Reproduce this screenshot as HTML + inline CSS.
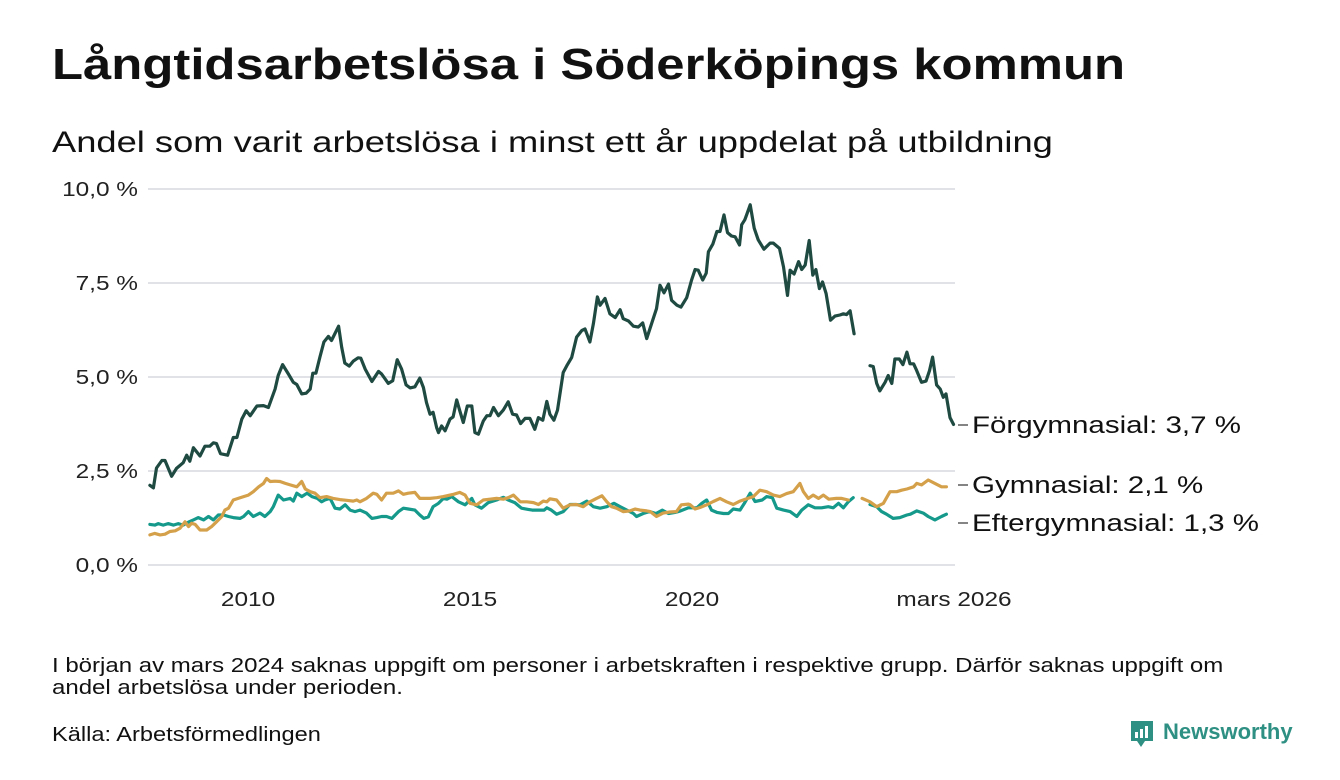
<!DOCTYPE html>
<html><head><meta charset="utf-8">
<style>
html,body{margin:0;padding:0;background:#fff;}
body{width:1340px;height:780px;overflow:hidden;font-family:"Liberation Sans","DejaVu Sans",sans-serif;color:#111;position:relative;}
.t{position:absolute;white-space:nowrap;transform-origin:0 0;}
</style></head>
<body>
<div class="t" style="left:52px;top:40px;font-size:44px;font-weight:bold;transform:scaleX(1.155);">Långtidsarbetslösa i Söderköpings kommun</div>
<div class="t" style="left:52px;top:126px;font-size:30px;transform:scaleX(1.21);">Andel som varit arbetslösa i minst ett år uppdelat på utbildning</div>
<svg id="chart" width="1340" height="620" style="position:absolute;left:0;top:0;" xmlns="http://www.w3.org/2000/svg"></svg>
<div class="t" style="left:52px;top:655px;font-size:20px;line-height:22px;white-space:normal;width:1010px;transform:scaleX(1.2);">I början av mars 2024 saknas uppgift om personer i arbetskraften i respektive grupp. Därför saknas uppgift om andel arbetslösa under perioden.</div>
<div class="t" style="left:52px;top:724px;font-size:20px;transform:scaleX(1.18);">Källa: Arbetsförmedlingen</div>
<div style="position:absolute;left:1129px;top:720px;">
<svg width="28" height="30" style="position:absolute;left:0;top:0;"><path d="M2 1h22v20h-8l-4 6l-4-6H2z" fill="#2e8f83"/><rect x="6" y="12" width="3" height="6" fill="#fff"/><rect x="11" y="9" width="3" height="9" fill="#fff"/><rect x="16" y="6" width="3" height="12" fill="#fff"/></svg>
<span style="position:absolute;left:34px;top:-1px;font-size:22px;font-weight:bold;color:#2e8f83;white-space:nowrap;">Newsworthy</span>
</div>
<script>
const yTicks=[0,2.5,5,7.5,10];
const yTickLabels=["0,0 %","2,5 %","5,0 %","7,5 %","10,0 %"];
const xTicks=[2010,2015,2020,2026.17];
const xTickLabels=["2010","2015","2020","mars 2026"];
const seriesNames=["Förgymnasial","Gymnasial","Eftergymnasial"];
const endLabels=["Förgymnasial: 3,7 %","Gymnasial: 2,1 %","Eftergymnasial: 1,3 %"];
const forX=[2007.79,2007.87,2007.94,2008.06,2008.13,2008.28,2008.39,2008.54,2008.62,2008.69,2008.77,2008.92,2009.03,2009.14,2009.22,2009.29,2009.38,2009.54,2009.67,2009.75,2009.86,2009.96,2010.05,2010.20,2010.35,2010.46,2010.61,2010.68,2010.78,2010.91,2011.02,2011.10,2011.21,2011.31,2011.40,2011.46,2011.53,2011.62,2011.71,2011.81,2011.88,2012.04,2012.11,2012.18,2012.28,2012.37,2012.48,2012.54,2012.64,2012.79,2012.94,2013.01,2013.16,2013.26,2013.36,2013.46,2013.56,2013.65,2013.76,2013.87,2013.95,2014.02,2014.10,2014.17,2014.25,2014.29,2014.36,2014.44,2014.55,2014.62,2014.70,2014.77,2014.85,2014.94,2015.04,2015.11,2015.19,2015.30,2015.38,2015.45,2015.53,2015.64,2015.75,2015.86,2015.96,2016.05,2016.14,2016.24,2016.35,2016.46,2016.54,2016.64,2016.73,2016.80,2016.89,2016.97,2017.10,2017.18,2017.29,2017.40,2017.52,2017.59,2017.70,2017.78,2017.87,2017.93,2018.04,2018.15,2018.27,2018.38,2018.45,2018.57,2018.68,2018.79,2018.89,2018.98,2019.09,2019.20,2019.28,2019.37,2019.47,2019.54,2019.66,2019.75,2019.88,2019.99,2020.07,2020.14,2020.24,2020.32,2020.37,2020.47,2020.56,2020.63,2020.72,2020.80,2020.89,2020.97,2021.07,2021.12,2021.19,2021.23,2021.31,2021.40,2021.49,2021.62,2021.76,2021.83,2021.97,2022.06,2022.15,2022.21,2022.30,2022.40,2022.47,2022.55,2022.64,2022.72,2022.79,2022.87,2022.94,2023.02,2023.12,2023.22,2023.33,2023.41,2023.48,2023.56,2023.65,2023.83,2024.01,2024.08,2024.16,2024.23,2024.35,2024.42,2024.50,2024.57,2024.67,2024.75,2024.84,2024.91,2024.99,2025.06,2025.17,2025.27,2025.35,2025.42,2025.51,2025.59,2025.66,2025.72,2025.81,2025.89];
const forY=[2.12,2.05,2.58,2.78,2.78,2.36,2.57,2.72,2.92,2.76,3.12,2.90,3.16,3.16,3.25,3.23,2.96,2.92,3.39,3.39,3.88,4.10,3.97,4.23,4.24,4.19,4.68,5.04,5.33,5.08,4.86,4.80,4.55,4.57,4.68,5.10,5.10,5.53,5.93,6.08,5.97,6.35,5.79,5.37,5.29,5.42,5.51,5.50,5.21,4.88,5.15,5.08,4.83,4.90,5.46,5.21,4.79,4.71,4.74,4.97,4.72,4.32,4.01,4.06,3.65,3.52,3.70,3.57,3.88,3.94,4.39,4.10,3.79,4.23,4.23,3.52,3.48,3.83,3.97,3.97,4.19,3.97,4.12,4.34,4.01,3.99,3.76,3.90,3.90,3.61,3.92,3.85,4.35,4.01,3.85,4.12,5.12,5.30,5.52,6.06,6.24,6.28,5.93,6.42,7.13,6.91,7.09,6.68,6.58,6.79,6.55,6.49,6.35,6.33,6.44,6.02,6.42,6.82,7.44,7.24,7.47,7.04,6.91,6.86,7.11,7.58,7.86,7.84,7.58,7.76,8.33,8.54,8.87,8.87,9.31,8.84,8.75,8.73,8.51,9.05,9.18,9.31,9.58,8.96,8.65,8.40,8.56,8.56,8.42,7.93,7.17,7.84,7.74,8.07,7.86,7.98,8.63,7.71,7.86,7.35,7.53,7.22,6.51,6.62,6.65,6.68,6.66,6.76,6.15,null,5.30,5.28,4.83,4.63,4.86,5.04,4.83,5.48,5.48,5.33,5.66,5.35,5.35,5.17,4.86,4.89,5.17,5.53,4.79,4.68,4.46,4.55,3.92,3.74];
const gymX=[2007.79,2007.90,2008.02,2008.13,2008.24,2008.36,2008.47,2008.58,2008.66,2008.73,2008.81,2008.92,2009.07,2009.18,2009.29,2009.41,2009.48,2009.56,2009.67,2009.78,2009.90,2010.01,2010.12,2010.24,2010.35,2010.42,2010.50,2010.61,2010.72,2010.84,2010.95,2011.10,2011.21,2011.29,2011.40,2011.51,2011.62,2011.77,2011.92,2012.07,2012.22,2012.37,2012.45,2012.52,2012.67,2012.82,2012.90,2013.01,2013.12,2013.27,2013.39,2013.50,2013.61,2013.76,2013.87,2014.10,2014.25,2014.40,2014.55,2014.63,2014.77,2014.89,2015.00,2015.15,2015.30,2015.45,2015.60,2015.75,2015.86,2015.98,2016.13,2016.28,2016.43,2016.54,2016.65,2016.73,2016.80,2016.95,2017.10,2017.25,2017.40,2017.55,2017.70,2017.85,2017.97,2018.08,2018.19,2018.30,2018.45,2018.60,2018.72,2018.83,2018.98,2019.06,2019.20,2019.35,2019.50,2019.65,2019.76,2019.92,2019.96,2020.07,2020.18,2020.33,2020.48,2020.63,2020.78,2020.93,2021.08,2021.23,2021.38,2021.53,2021.68,2021.83,2021.98,2022.13,2022.28,2022.43,2022.51,2022.62,2022.73,2022.85,2022.96,2023.08,2023.25,2023.37,2023.52,2023.63,2023.83,2024.01,2024.16,2024.31,2024.46,2024.61,2024.72,2024.84,2024.99,2025.06,2025.17,2025.32,2025.47,2025.62,2025.73,2025.89];
const gymY=[0.80,0.84,0.80,0.82,0.89,0.91,0.98,1.15,1.02,1.11,1.08,0.93,0.93,1.02,1.15,1.29,1.46,1.51,1.73,1.77,1.82,1.86,1.95,2.08,2.17,2.30,2.22,2.23,2.22,2.17,2.13,2.08,2.22,2.02,1.95,1.91,1.79,1.82,1.77,1.74,1.72,1.70,1.73,1.68,1.77,1.91,1.88,1.73,1.91,1.91,1.97,1.88,1.91,1.93,1.77,1.77,1.79,1.82,1.86,1.88,1.93,1.86,1.64,1.60,1.73,1.75,1.77,1.75,1.79,1.86,1.68,1.68,1.66,1.61,1.70,1.68,1.76,1.73,1.51,1.60,1.61,1.55,1.68,1.77,1.84,1.68,1.55,1.51,1.42,1.44,1.49,1.46,1.44,1.42,1.29,1.38,1.41,1.42,1.60,1.62,1.60,1.49,1.53,1.60,1.69,1.77,1.68,1.61,1.70,1.76,1.82,1.99,1.95,1.86,1.82,1.90,1.95,2.17,1.95,1.77,1.86,1.77,1.86,1.75,1.77,1.77,1.73,null,1.77,1.68,1.55,1.64,1.95,1.95,1.99,2.02,2.08,2.17,2.13,2.26,2.17,2.08,2.08];
const eftX=[2007.79,2007.90,2007.98,2008.09,2008.20,2008.32,2008.43,2008.54,2008.66,2008.77,2008.88,2009.00,2009.11,2009.22,2009.33,2009.45,2009.56,2009.67,2009.82,2009.90,2010.01,2010.12,2010.27,2010.38,2010.50,2010.57,2010.68,2010.80,2010.95,2011.02,2011.10,2011.21,2011.33,2011.44,2011.56,2011.66,2011.73,2011.85,2011.96,2012.07,2012.19,2012.30,2012.41,2012.52,2012.67,2012.79,2012.90,2013.01,2013.12,2013.24,2013.39,2013.50,2013.61,2013.76,2013.87,2013.96,2014.06,2014.17,2014.29,2014.40,2014.48,2014.59,2014.74,2014.89,2015.04,2015.11,2015.26,2015.41,2015.60,2015.75,2015.86,2016.01,2016.16,2016.31,2016.40,2016.52,2016.67,2016.73,2016.83,2016.95,2017.10,2017.25,2017.37,2017.48,2017.63,2017.78,2017.93,2018.08,2018.24,2018.38,2018.53,2018.68,2018.75,2018.90,2019.04,2019.19,2019.33,2019.47,2019.62,2019.74,2019.92,2019.96,2020.11,2020.22,2020.33,2020.44,2020.56,2020.71,2020.82,2020.93,2021.08,2021.19,2021.31,2021.42,2021.58,2021.68,2021.81,2021.91,2022.06,2022.21,2022.36,2022.47,2022.62,2022.77,2022.92,2023.07,2023.18,2023.30,2023.41,2023.52,2023.63,2023.83,2024.01,2024.16,2024.27,2024.38,2024.53,2024.68,2024.84,2024.92,2025.06,2025.21,2025.32,2025.47,2025.62,2025.73];
const eftY=[1.08,1.06,1.10,1.06,1.10,1.06,1.10,1.06,1.14,1.20,1.26,1.20,1.29,1.20,1.33,1.33,1.29,1.26,1.24,1.29,1.42,1.29,1.38,1.29,1.42,1.55,1.86,1.73,1.77,1.70,1.91,1.82,1.91,1.82,1.77,1.68,1.73,1.77,1.51,1.49,1.60,1.46,1.42,1.46,1.38,1.24,1.26,1.29,1.29,1.24,1.42,1.51,1.49,1.46,1.33,1.24,1.28,1.55,1.64,1.77,1.75,1.82,1.68,1.60,1.77,1.60,1.51,1.66,1.73,1.80,1.73,1.66,1.51,1.48,1.46,1.46,1.46,1.52,1.46,1.35,1.42,1.61,1.61,1.60,1.70,1.55,1.51,1.55,1.64,1.55,1.46,1.37,1.29,1.37,1.42,1.37,1.46,1.37,1.40,1.44,1.52,1.52,1.52,1.64,1.73,1.46,1.40,1.37,1.37,1.49,1.46,1.66,1.91,1.69,1.73,1.82,1.79,1.51,1.46,1.42,1.29,1.46,1.60,1.52,1.52,1.55,1.52,1.64,1.52,1.68,1.79,null,1.61,1.55,1.42,1.35,1.24,1.26,1.33,1.35,1.44,1.38,1.29,1.20,1.29,1.35,1.33];
const colors=["#1e4a41","#d4a04a","#14998a"];

const svg=document.getElementById('chart');
const NS='http://www.w3.org/2000/svg';
const X0=148,X1=955;
function xs(t){return 248+(t-2010)*44.4;}
function ys(v){return 565-v*37.6;}
function mk(tag,attrs){const e=document.createElementNS(NS,tag);for(const k in attrs)e.setAttribute(k,attrs[k]);svg.appendChild(e);return e;}

yTicks.forEach((v,i)=>{
  const g=mk('line',{x1:X0,x2:X1,y1:ys(v),y2:ys(v),stroke:'#e1e1e8','stroke-width':2});
  
  
  const t=mk('text',{x:0,y:0,transform:'translate(138,'+(ys(v)+7)+') scale(1.22,1)','text-anchor':'end','font-size':20,fill:'#222','font-family':'Liberation Sans, sans-serif'});
  t.textContent=yTickLabels[i];
  
  
});
xTicks.forEach((v,i)=>{
  const px=i===3?954:xs(v);
  const t=mk('text',{x:0,y:0,transform:'translate('+px+',606) scale(1.22,1)','text-anchor':'middle','font-size':20,fill:'#222','font-family':'Liberation Sans, sans-serif'});
  t.textContent=xTickLabels[i];
  
  
});
function pathD(xa,ya){let d='',pen=false;for(let i=0;i<xa.length;i++){if(ya[i]===null){pen=false;continue;}d+=(pen?'L':'M')+xs(xa[i]).toFixed(1)+' '+ys(ya[i]).toFixed(1);pen=true;}return d;}
const allX=[forX,gymX,eftX],allY=[forY,gymY,eftY];
[2,1,0].forEach(i=>{
  const p=mk('path',{d:pathD(allX[i],allY[i]),fill:'none',stroke:colors[i],'stroke-width':3.2,'stroke-linejoin':'round','stroke-linecap':'round'});
  
  
});
const labelY=[425,485,523];
[0,1,2].forEach(i=>{
  const ly=labelY[i];
  const l=mk('line',{x1:958,x2:968,y1:ly,y2:ly,stroke:'#333','stroke-width':1.2});
  
  
  const t=mk('text',{x:0,y:0,transform:'translate(972,'+(ly+8)+') scale(1.23,1)','font-size':24,fill:'#111','font-family':'Liberation Sans, sans-serif'});
  t.textContent=endLabels[i];
  
  
});
</script>
</body></html>
